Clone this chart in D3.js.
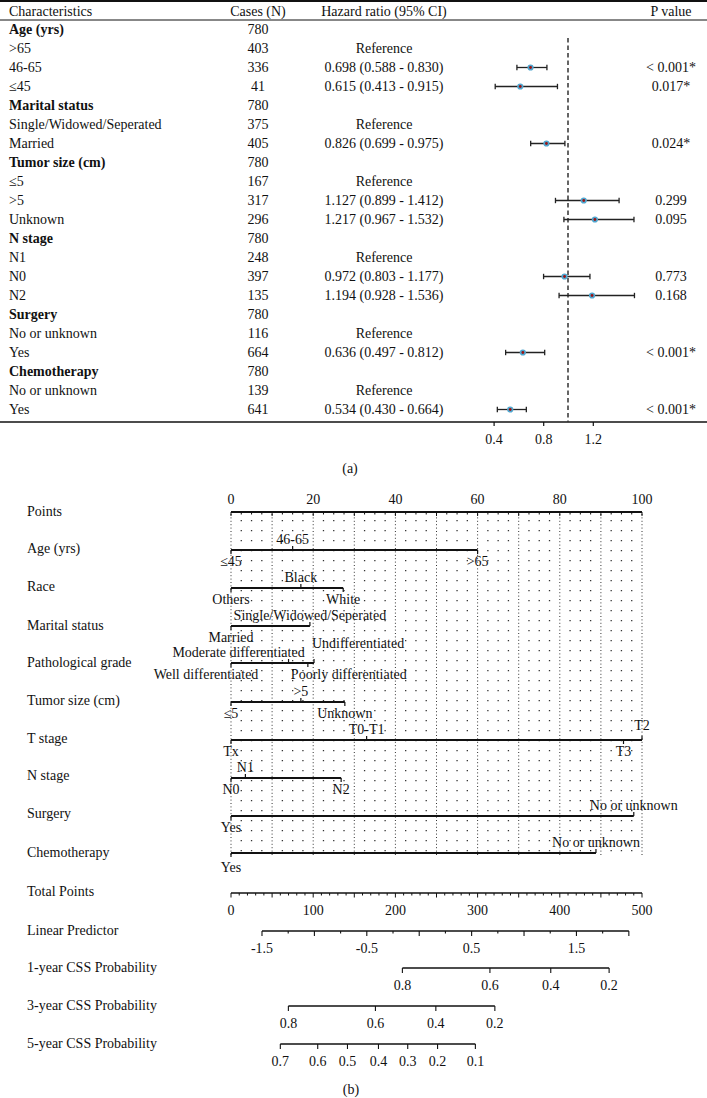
<!DOCTYPE html>
<html><head><meta charset="utf-8">
<script src="https://cdn.jsdelivr.net/npm/d3@7"></script>
<style>
body{margin:0;background:#fff}
svg{display:block}
text{font-family:"Liberation Serif","Times New Roman",serif;font-size:14px;fill:#111}
</style>
</head><body><svg id="c" width="707" height="1098"></svg>
<script>
// ---------- DATA: forest table (a) ----------
const rowLabels = ["Age (yrs)", ">65", "46-65", "≤45", "Marital status", "Single/Widowed/Seperated", "Married",
  "Tumor size (cm)", "≤5", ">5", "Unknown", "N stage", "N1", "N0", "N2", "Surgery", "No or unknown", "Yes",
  "Chemotherapy", "No or unknown", "Yes"];
const isGroup = [1,0,0,0,1,0,0,1,0,0,0,1,0,0,0,1,0,0,1,0,0];
const cases = [780,403,336,41,780,375,405,780,167,317,296,780,248,397,135,780,116,664,780,139,641];
const hr     = [null,null,0.698,0.615,null,null,0.826,null,null,1.127,1.217,null,null,0.972,1.194,null,null,0.636,null,null,0.534];
const hrLow  = [null,null,0.588,0.413,null,null,0.699,null,null,0.899,0.967,null,null,0.803,0.928,null,null,0.497,null,null,0.430];
const hrHigh = [null,null,0.830,0.915,null,null,0.975,null,null,1.412,1.532,null,null,1.177,1.536,null,null,0.812,null,null,0.664];
const pValues = ["","","< 0.001*","0.017*","","","0.024*","","","0.299","0.095","","","0.773","0.168","","","< 0.001*","","","< 0.001*"];
const forestTicks = [0.4, 0.8, 1.2];
const refLine = 1.0;

// ---------- DATA: nomogram (b) ----------
const nomoVars = ["Age (yrs)","Race","Marital status","Pathological grade","Tumor size (cm)","T stage","N stage","Surgery","Chemotherapy"];
const levelNames = [
  ["≤45","46-65",">65"],
  ["Others","Black","White"],
  ["Married","Single/Widowed/Seperated"],
  ["Well differentiated","Moderate differentiated","Poorly differentiated","Undifferentiated"],
  ["≤5",">5","Unknown"],
  ["Tx","T0-T1","T3","T2"],
  ["N0","N1","N2"],
  ["Yes","No or unknown"],
  ["Yes","No or unknown"]
];
const levelPoints = [
  [0,15,60],
  [0,17,27.3],
  [0,19.2],
  [0,14,18.7,20.2],
  [0,17,27.7],
  [0,33,95.5,100],
  [0,3.5,26.8],
  [0,98],
  [0,88.8]
];
const pointTicks = [0,20,40,60,80,100];
const totalTicks = [0,100,200,300,400,500];
const lpTicks = [-1.5,-0.5,0.5,1.5];
const lpExtent = [-1.5, 2.0];
const lpTotalAt = [37.7, 484];          // total points at lpExtent ends
const css1Labels = [0.8,0.6,0.4,0.2];
const css1Total  = [208.5,315,389,460];
const css3Labels = [0.8,0.6,0.4,0.2];
const css3Total  = [69.8,175.7,249.2,321];
const css5Labels = [0.7,0.6,0.5,0.4,0.3,0.2,0.1];
const css5Total  = [60,105.5,141.7,179.4,215,251.3,297.3];

// ---------- DRAW ----------
const svg = d3.select("#c");
const ink = "#111";
const fmt1 = v => d3.format(".1f")(v).replace("\u2212","-");

// ===== (a) forest table =====
const rowY = d3.scaleLinear().domain([0,1]).range([29.5,48.5]);
const xHR = d3.scaleLinear().domain([0.4,1.2]).range([493.6,592.8]);
const colChar = 9, colCases = 258, colHR = 384, colP = 671;

svg.append("line").attr("x1",0).attr("x2",707).attr("y1",1).attr("y2",1).attr("stroke",ink).attr("stroke-width",2);
svg.append("line").attr("x1",0).attr("x2",707).attr("y1",20).attr("y2",20).attr("stroke",ink).attr("stroke-width",1);
svg.append("line").attr("x1",0).attr("x2",707).attr("y1",422).attr("y2",422).attr("stroke",ink).attr("stroke-width",1.5);

const hdr = svg.append("g").attr("dominant-baseline","central");
hdr.append("text").attr("x",colChar).attr("y",11.5).text("Characteristics");
hdr.append("text").attr("x",colCases).attr("y",11.5).attr("text-anchor","middle").text("Cases (N)");
hdr.append("text").attr("x",colHR).attr("y",11.5).attr("text-anchor","middle").text("Hazard ratio (95% CI)");
hdr.append("text").attr("x",colP).attr("y",11.5).attr("text-anchor","middle").text("P value");

// reference dashed line
svg.append("line").attr("x1",xHR(refLine)).attr("x2",xHR(refLine)).attr("y1",38).attr("y2",422)
  .attr("stroke","#333").attr("stroke-width",1.5).attr("stroke-dasharray","4.5,3");

const rows = svg.append("g").selectAll("g").data(rowLabels.map((d,i)=>i)).join("g")
  .attr("transform",i=>`translate(0,${rowY(i)})`);
rows.append("text").attr("x",colChar).attr("dominant-baseline","central")
  .attr("font-weight",i=>isGroup[i]?"bold":null).text(i=>rowLabels[i]);
rows.append("text").attr("x",colCases).attr("text-anchor","middle").attr("dominant-baseline","central").text(i=>cases[i]);
rows.append("text").attr("x",colHR).attr("text-anchor","middle").attr("dominant-baseline","central")
  .text(i=>isGroup[i]?"":(hr[i]==null?"Reference":`${hr[i].toFixed(3)} (${hrLow[i].toFixed(3)} - ${hrHigh[i].toFixed(3)})`));
rows.append("text").attr("x",colP).attr("text-anchor","middle").attr("dominant-baseline","central").text(i=>pValues[i]);

const est = rows.filter(i=>hr[i]!=null);
est.append("line").attr("x1",i=>xHR(hrLow[i])).attr("x2",i=>xHR(hrHigh[i])).attr("y1",0).attr("y2",0).attr("stroke","#222").attr("stroke-width",1.3);
est.append("line").attr("x1",i=>xHR(hrLow[i])).attr("x2",i=>xHR(hrLow[i])).attr("y1",-2.7).attr("y2",2.7).attr("stroke","#222").attr("stroke-width",1.3);
est.append("line").attr("x1",i=>xHR(hrHigh[i])).attr("x2",i=>xHR(hrHigh[i])).attr("y1",-2.7).attr("y2",2.7).attr("stroke","#222").attr("stroke-width",1.3);
est.append("circle").attr("cx",i=>xHR(hr[i])).attr("cy",0).attr("r",3.1).attr("fill","#4fa6cf");
est.append("circle").attr("cx",i=>xHR(hr[i])).attr("cy",0).attr("r",1.4).attr("fill","#9b1414");

// forest axis
const fAx = svg.append("g").attr("transform","translate(0,422)")
  .call(d3.axisBottom(xHR).tickValues(forestTicks).tickFormat(fmt1).tickSize(4).tickPadding(8));
fAx.select(".domain").remove();
fAx.selectAll("line").attr("stroke",ink).attr("stroke-width",1.2);
fAx.selectAll("text").attr("font-size",14).attr("font-family",null).attr("fill",ink);

svg.append("text").attr("x",350).attr("y",468).attr("text-anchor","middle").attr("dominant-baseline","central").text("(a)");

// ===== (b) nomogram =====
const xPts = d3.scaleLinear().domain([0,100]).range([231,642]);
const xTot = d3.scaleLinear().domain([0,500]).range([231,642]);
const labelX = 27;
const rowLabelY = [511,548,586,625,662,700,738,775,813,852,891,930,967,1005,1043];
const rowLineY  = [512,550,588,626,663,702,740,778,816,853,893,931,968,1006,1044];

// grid
const grid = svg.append("g");
const gTop = 514, gBot = 857;
grid.selectAll("line.maj").data(d3.range(0,101,10)).join("line").attr("class","maj")
  .attr("x1",d=>xPts(d)).attr("x2",d=>xPts(d)).attr("y1",gTop).attr("y2",gBot)
  .attr("stroke","#333").attr("stroke-width",1).attr("stroke-dasharray","1,2.4");
grid.selectAll("line.min").data(d3.range(2.5,100,2.5).filter(d=>d%10!==0)).join("line").attr("class","min")
  .attr("x1",d=>xPts(d)).attr("x2",d=>xPts(d)).attr("y1",gTop+6).attr("y2",gBot)
  .attr("stroke","#333").attr("stroke-width",1.3).attr("stroke-dasharray","1.3,8.7");

// row labels
const allLabels = ["Points"].concat(nomoVars, ["Total Points","Linear Predictor","1-year CSS Probability","3-year CSS Probability","5-year CSS Probability"]);
svg.append("g").selectAll("text").data(allLabels).join("text")
  .attr("x",labelX).attr("y",(d,i)=>rowLabelY[i]).attr("dominant-baseline","central").text(d=>d);

// Points axis
const pAx = svg.append("g").attr("transform",`translate(0,${rowLineY[0]})`);
pAx.append("line").attr("x1",xPts(0)).attr("x2",xPts(100)).attr("stroke",ink).attr("stroke-width",2);
pAx.selectAll("line.mi").data(d3.range(0,100.1,2.5)).join("line").attr("class","mi")
  .attr("x1",d=>xPts(d)).attr("x2",d=>xPts(d)).attr("y1",0).attr("y2",d=>d%10===0?4:2.5)
  .attr("stroke",ink).attr("stroke-width",1);
pAx.selectAll("text").data(pointTicks).join("text").attr("x",d=>xPts(d)).attr("y",-13)
  .attr("text-anchor","middle").attr("dominant-baseline","central").text(d=>d);

// variable scales
const labelShift = {"3-0":{dx:-25},"3-1":{dx:-50},"3-2":{dx:41},"3-3":{dx:44,dy:-9},"5-3":{dy:-4},"8-0":{dy:3}};
nomoVars.forEach((v,vi)=>{
  const y = rowLineY[vi+1];
  const g = svg.append("g").attr("transform",`translate(0,${y})`);
  const pts = levelPoints[vi];
  const order = pts.map((p,i)=>i).sort((a,b)=>pts[a]-pts[b]);
  const ext = d3.extent(pts);
  g.append("line").attr("x1",xPts(ext[0])).attr("x2",xPts(ext[1])).attr("stroke",ink).attr("stroke-width",2);
  order.forEach((li,rank)=>{
    const above = rank%2===1;
    const xp = xPts(pts[li]);
    g.append("line").attr("x1",xp).attr("x2",xp).attr("y1",0).attr("y2",above?-4:4).attr("stroke",ink).attr("stroke-width",1.2);
    const s = labelShift[vi+"-"+li] || {};
    g.append("text").attr("x",xp+(s.dx||0)).attr("y",(above?-10.5:11)+(s.dy||0))
      .attr("text-anchor","middle").attr("dominant-baseline","central").text(levelNames[vi][li]);
  });
});

// Total points axis
const tY = rowLineY[10];
const tAx = svg.append("g").attr("transform",`translate(0,${tY})`);
tAx.append("line").attr("x1",xTot(0)).attr("x2",xTot(500)).attr("stroke",ink).attr("stroke-width",1.6);
tAx.selectAll("line.t").data(d3.range(0,501,10)).join("line").attr("class","t")
  .attr("x1",d=>xTot(d)).attr("x2",d=>xTot(d)).attr("y1",0).attr("y2",d=>d%50===0?4.5:2.5)
  .attr("stroke",ink).attr("stroke-width",1);
tAx.selectAll("text").data(totalTicks).join("text").attr("x",d=>xTot(d)).attr("y",17)
  .attr("text-anchor","middle").attr("dominant-baseline","central").text(d=>d);

// Linear predictor
const lpToTot = d3.scaleLinear().domain(lpExtent).range(lpTotalAt);
const xLP = v=>xTot(lpToTot(v));
const lAx = svg.append("g").attr("transform",`translate(0,${rowLineY[11]})`);
lAx.append("line").attr("x1",xLP(lpExtent[0])).attr("x2",xLP(lpExtent[1])).attr("stroke",ink).attr("stroke-width",1.6);
lAx.selectAll("line.t").data(d3.range(0,15)).join("line").attr("class","t")
  .attr("x1",k=>xLP(lpExtent[0]+k*0.25)).attr("x2",k=>xLP(lpExtent[0]+k*0.25))
  .attr("y1",0).attr("y2",k=>k%2===0?5:2.5).attr("stroke",ink).attr("stroke-width",1.1);
lAx.selectAll("text").data(lpTicks).join("text").attr("x",d=>xLP(d)).attr("y",17)
  .attr("text-anchor","middle").attr("dominant-baseline","central").text(d=>fmt1(d));

// probability axes
function probAxis(labels, totals, y){
  const g = svg.append("g").attr("transform",`translate(0,${y})`);
  const ext = d3.extent(totals);
  g.append("line").attr("x1",xTot(ext[0])).attr("x2",xTot(ext[1])).attr("stroke",ink).attr("stroke-width",1.6);
  g.selectAll("line.t").data(totals).join("line").attr("class","t")
    .attr("x1",d=>xTot(d)).attr("x2",d=>xTot(d)).attr("y1",0).attr("y2",5).attr("stroke",ink).attr("stroke-width",1.1);
  g.selectAll("text").data(labels).join("text").attr("x",(d,i)=>xTot(totals[i])).attr("y",17)
    .attr("text-anchor","middle").attr("dominant-baseline","central").text(d=>fmt1(d));
}
probAxis(css1Labels, css1Total, rowLineY[12]);
probAxis(css3Labels, css3Total, rowLineY[13]);
probAxis(css5Labels, css5Total, rowLineY[14]);

svg.append("text").attr("x",351).attr("y",1089).attr("text-anchor","middle").attr("dominant-baseline","central").text("(b)");
</script>
</body></html>
